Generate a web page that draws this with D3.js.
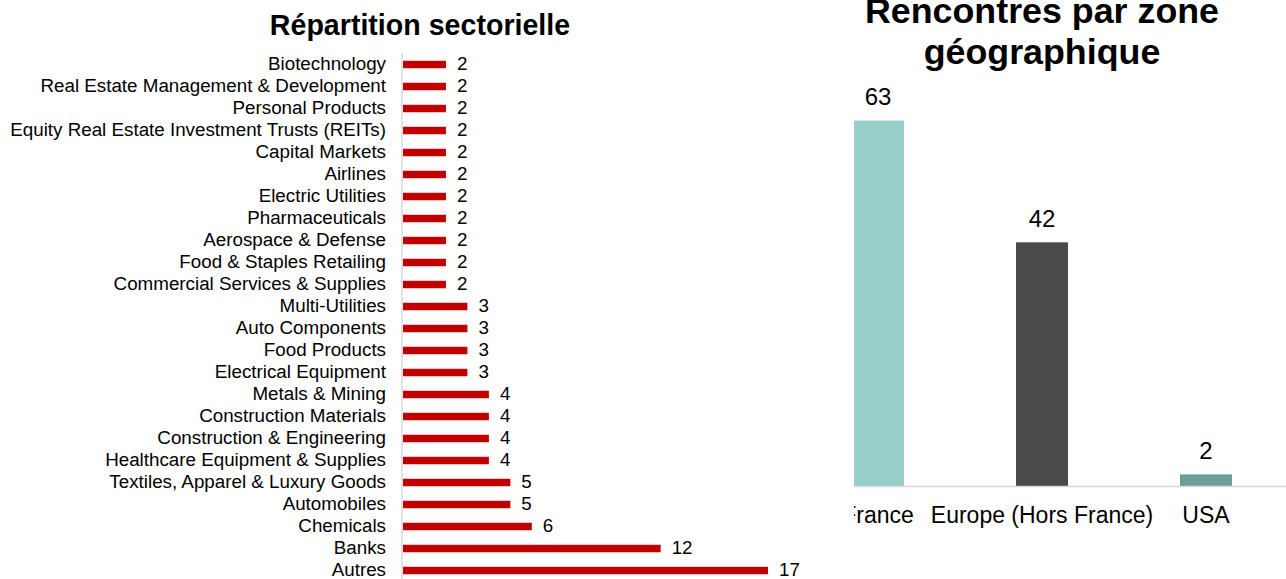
<!DOCTYPE html>
<html>
<head>
<meta charset="utf-8">
<script src="https://cdn.jsdelivr.net/npm/d3@7"></script>
<style>
  html, body { margin: 0; padding: 0; background: #fff; }
  svg { display: block; font-family: "Liberation Sans", Arial, sans-serif; }
</style>
</head>
<body>
<svg id="chart" width="1286" height="579"></svg>
<script>
// ---- Data: sector breakdown ----
const sectors = [
  "Biotechnology",
  "Real Estate Management & Development",
  "Personal Products",
  "Equity Real Estate Investment Trusts (REITs)",
  "Capital Markets",
  "Airlines",
  "Electric Utilities",
  "Pharmaceuticals",
  "Aerospace & Defense",
  "Food & Staples Retailing",
  "Commercial Services & Supplies",
  "Multi-Utilities",
  "Auto Components",
  "Food Products",
  "Electrical Equipment",
  "Metals & Mining",
  "Construction Materials",
  "Construction & Engineering",
  "Healthcare Equipment & Supplies",
  "Textiles, Apparel & Luxury Goods",
  "Automobiles",
  "Chemicals",
  "Banks",
  "Autres"
];
const sectorCounts = [2, 2, 2, 2, 2, 2, 2, 2, 2, 2, 2, 3, 3, 3, 3, 4, 4, 4, 4, 5, 5, 6, 12, 17];

// ---- Data: meetings by geographic zone ----
const zones = ["France", "Europe (Hors France)", "USA"];
const zoneCounts = [63, 42, 2];
const zoneColors = ["#99cfca", "#4a4a4c", "#6c9d9a"];

const leftTitle = "Répartition sectorielle";
const rightTitleLines = ["Rencontres par zone", "géographique"];

const svg = d3.select("#chart");

// ================= Left chart =================
const left = svg.append("g");

const yS = d3.scaleBand()
  .domain(sectors)
  .range([53.5, 581.5])
  .paddingInner(0.66)
  .paddingOuter(0.33);

const xS = d3.scaleLinear().domain([0, 17]).range([403, 768]);

left.append("text")
  .attr("x", 420).attr("y", 35)
  .attr("text-anchor", "middle")
  .attr("font-size", 28.6).attr("font-weight", "bold").attr("fill", "#000")
  .text(leftTitle);

// bars
left.selectAll("rect.bar")
  .data(sectors)
  .join("rect")
  .attr("class", "bar")
  .attr("x", xS(0))
  .attr("y", d => yS(d))
  .attr("width", (d, i) => xS(sectorCounts[i]) - xS(0))
  .attr("height", yS.bandwidth())
  .attr("fill", "#c00000");

// axis (category labels)
const yAxis = d3.axisLeft(yS).tickSize(0).tickPadding(16);
const yAxisG = left.append("g")
  .attr("transform", `translate(402,0)`)
  .call(yAxis);
yAxisG.select(".domain").remove();
yAxisG.selectAll("text")
  .attr("font-size", 18.8)
  .attr("dy", "0.3em")
  .attr("font-family", "'Liberation Sans', Arial, sans-serif")
  .attr("fill", "#000");

left.append("line")
  .attr("x1", 402).attr("x2", 402)
  .attr("y1", 53).attr("y2", 579)
  .attr("stroke", "#d9d9d9").attr("stroke-width", 1.5);

// value labels
left.selectAll("text.val")
  .data(sectors)
  .join("text")
  .attr("class", "val")
  .attr("x", (d, i) => xS(sectorCounts[i]) + 11)
  .attr("y", d => yS(d) + yS.bandwidth() / 2)
  .attr("dy", "0.3em")
  .attr("font-size", 18.8).attr("fill", "#000")
  .text((d, i) => sectorCounts[i]);

// ================= Right chart =================
const right = svg.append("g");

svg.append("defs").append("clipPath").attr("id", "rclip")
  .append("rect").attr("x", 854).attr("y", 0).attr("width", 432).attr("height", 579);

const xZ = d3.scaleBand()
  .domain(zones)
  .range([796, 1288])
  .paddingInner(0.683)
  .paddingOuter(0.3415);

const yZ = d3.scaleLinear().domain([0, 63]).range([486, 120.5]);

right.selectAll("text.title")
  .data(rightTitleLines)
  .join("text")
  .attr("class", "title")
  .attr("x", 1042)
  .attr("y", (d, i) => 23 + i * 41)
  .attr("text-anchor", "middle")
  .attr("font-size", 35.8).attr("font-weight", "bold").attr("fill", "#000")
  .text(d => d);

const rc = right.append("g").attr("clip-path", "url(#rclip)");

rc.selectAll("rect.zb")
  .data(zones)
  .join("rect")
  .attr("class", "zb")
  .attr("x", d => xZ(d))
  .attr("y", (d, i) => yZ(zoneCounts[i]))
  .attr("width", xZ.bandwidth())
  .attr("height", (d, i) => yZ(0) - yZ(zoneCounts[i]))
  .attr("fill", (d, i) => zoneColors[i]);

rc.append("line")
  .attr("x1", 854).attr("x2", 1286)
  .attr("y1", 486.5).attr("y2", 486.5)
  .attr("stroke", "#d9d9d9").attr("stroke-width", 1.5);

const xAxisG = rc.append("g")
  .attr("transform", "translate(0,486)")
  .call(d3.axisBottom(xZ).tickSize(0).tickPadding(21));
xAxisG.select(".domain").remove();
xAxisG.selectAll("text")
  .attr("font-size", 23)
  .attr("font-family", "'Liberation Sans', Arial, sans-serif")
  .attr("fill", "#000");

rc.selectAll("text.zv")
  .data(zones)
  .join("text")
  .attr("class", "zv")
  .attr("x", d => xZ(d) + xZ.bandwidth() / 2)
  .attr("y", (d, i) => yZ(zoneCounts[i]) - 15.5)
  .attr("text-anchor", "middle")
  .attr("font-size", 24).attr("fill", "#000")
  .text((d, i) => zoneCounts[i]);
</script>
</body>
</html>
